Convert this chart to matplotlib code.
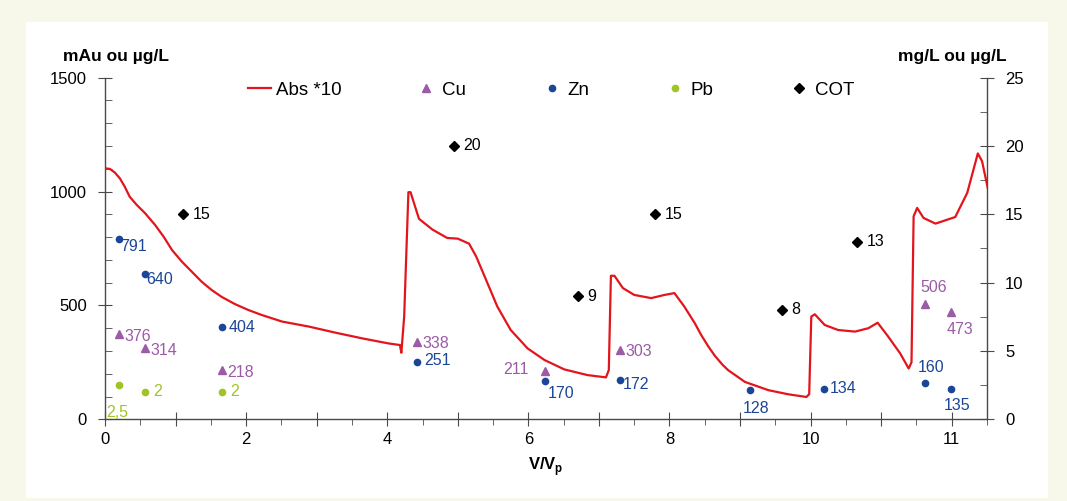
import matplotlib
matplotlib.use('Agg')
import matplotlib.pyplot as plt
from matplotlib.patches import Rectangle
import numpy as np

plt.rcParams['font.family'] = ['Liberation Sans', 'DejaVu Sans']
plt.rcParams['mathtext.fontset'] = 'custom'
plt.rcParams['mathtext.rm'] = 'Liberation Sans'
plt.rcParams['mathtext.bf'] = 'Liberation Sans:bold'

# Abs *10 curve (mAu), x = V/Vp
abs_v = [0.00, 0.07, 0.14, 0.21, 0.28, 0.35, 0.45, 0.57, 0.71, 0.83, 0.95, 1.09,
         1.23, 1.37, 1.51, 1.65, 1.84, 2.03, 2.22,
         2.51, 2.89, 3.27, 3.65, 4.02, 4.18, 4.20, 4.24, 4.30, 4.33, 4.45, 4.64,
         4.85, 5.00, 5.16, 5.26, 5.42, 5.56, 5.75, 5.99, 6.23, 6.51, 6.84, 7.10,
         7.14, 7.17, 7.22, 7.34, 7.50, 7.74, 7.93, 8.07, 8.21, 8.36, 8.45, 8.55,
         8.64, 8.75, 8.83, 9.07, 9.40, 9.68, 9.94, 9.98, 10.01, 10.06, 10.20,
         10.39, 10.63, 10.82, 10.95, 11.10, 11.27, 11.39, 11.43, 11.46, 11.51,
         11.60, 11.77, 12.05, 12.22, 12.37, 12.43, 12.51]
abs_mau = [1102, 1099, 1083, 1058, 1021, 977, 941, 904, 853, 802, 743, 692,
           648, 604, 568, 538, 506, 480, 458,
           429, 407, 380, 355, 333, 326, 292, 451, 997, 997, 880, 833,
           796, 793, 771, 715, 598, 495, 392, 311, 260, 219, 194, 184,
           216, 630, 630, 576, 546, 532, 546, 554, 495, 421, 370, 320,
           280, 240, 216, 164, 128, 110, 98, 110, 451, 461, 414,
           392, 385, 400, 424, 363, 289, 223, 250, 891, 928,
           884, 859, 888, 994, 1167, 1133, 1016]

# Cu (µg/L, left axis)
cu_v = [0.20, 0.57, 1.66, 4.42, 6.23, 7.30, 11.62, 11.99]
cu_val = [376, 314, 218, 338, 211, 303, 506, 473]

# Zn (µg/L, left axis)
zn_v = [0.20, 0.57, 1.66, 4.42, 6.23, 7.30, 9.14, 10.19, 11.62, 11.99]
zn_val = [791, 640, 404, 251, 170, 172, 128, 134, 160, 135]

# Pb (µg/L, right axis)
pb_v = [0.20, 0.57, 1.66]
pb_val = [2.5, 2, 2]
pb_lbl = ['2,5', '2', '2']

# COT (mg/L, right axis)
cot_v = [1.10, 4.94, 6.70, 7.79, 9.59, 10.66]
cot_val = [15, 20, 9, 15, 8, 13]

xtick_pos = list(range(13))
xtick_lbl = ['0', '', '2', '', '4', '', '6', '', '8', '', '10', '', '11']

red = '#e3151c'
purple = '#9b5ba6'
blue = '#1b4596'
green = '#9fc423'

fig = plt.figure(figsize=(10.67, 5.01), dpi=100)
fig.patch.set_facecolor('#f7f7ea')
fig.patches.append(Rectangle((26/1067, 1-498/501), (1048-26)/1067, (498-22)/501,
                             transform=fig.transFigure, facecolor='white',
                             edgecolor='none', zorder=-5))

ax = fig.add_axes([105/1067, 1-419.3/501, 882/1067, 341.7/501])
ax2 = ax.twinx()
ax.set_zorder(2)
ax.patch.set_visible(False)
ax2.patch.set_visible(False)

ax.plot(abs_v, abs_mau, color=red, lw=1.6, label='Abs *10', zorder=3)
ax.plot(cu_v, cu_val, ls='none', marker='^', ms=5.5, color=purple, label='Cu')
ax.plot(zn_v, zn_val, ls='none', marker='o', ms=4.5, color=blue, label='Zn')
ax.plot(np.nan, np.nan, ls='none', marker='o', ms=4.5, color=green, label='Pb')
ax.plot(np.nan, np.nan, ls='none', marker='D', ms=5, color='black', label='COT')
ax2.plot(pb_v, pb_val, ls='none', marker='o', ms=4.5, color=green)
ax2.plot(cot_v, cot_val, ls='none', marker='D', ms=5, color='black')

fs = 11.5
# label offsets (points)
cu_off = [(4, -2), (4, -2), (4, -2), (4, -1), (-30, 1), (4, -1), (-3, 12), (-3, -13)]
for v, y, o in zip(cu_v, cu_val, cu_off):
    ax.annotate(str(y), (v, y), xytext=o, textcoords='offset points',
                color=purple, fontsize=fs, va='center', ha='left')
zn_off = [(1, -5), (1, -4), (5, 0), (5, 1), (2, -9), (2, -3), (-5, -13), (4, 0), (-5, 11), (-5, -12)]
for v, y, o in zip(zn_v, zn_val, zn_off):
    ax.annotate(str(y), (v, y), xytext=o, textcoords='offset points',
                color=blue, fontsize=fs, va='center', ha='left')
pb_off = [(-9, -20), (6, 0), (6, 0)]
for v, y, s, o in zip(pb_v, pb_val, pb_lbl, pb_off):
    ax2.annotate(s, (v, y), xytext=o, textcoords='offset points',
                 color=green, fontsize=fs, va='center', ha='left')
for v, y in zip(cot_v, cot_val):
    ax2.annotate(str(y), (v, y), xytext=(7, 0), textcoords='offset points',
                 color='black', fontsize=fs, va='center', ha='left')

ax.set_xlim(0, 12.5)
ax.set_ylim(0, 1500)
ax2.set_ylim(0, 25)

ax.set_xticks(xtick_pos)
ax.set_xticklabels(xtick_lbl)
ax.set_xticks(np.arange(0.5, 12.51, 1.0), minor=True)
ax.set_yticks([0, 500, 1000, 1500])
ax.set_yticks(np.arange(0, 1501, 100), minor=True)
ax2.set_yticks([0, 5, 10, 15, 20, 25])
ax2.set_yticks(np.arange(0, 25.1, 2.5), minor=True)

axc = '#4a4a4a'
for a in (ax, ax2):
    for s in a.spines.values():
        s.set_visible(False)
ax.spines['left'].set_visible(True)
ax.spines['bottom'].set_visible(True)
ax2.spines['right'].set_visible(True)
for s in (ax.spines['left'], ax.spines['bottom'], ax2.spines['right']):
    s.set_color(axc)
    s.set_linewidth(1.0)

ax.tick_params(axis='x', which='major', direction='inout', length=10, color=axc,
               labelsize=12, pad=4)
ax.tick_params(axis='x', which='minor', direction='out', length=4, color=axc)
ax.tick_params(axis='y', which='major', direction='inout', length=10, color=axc,
               labelsize=12, pad=8)
ax.tick_params(axis='y', which='minor', direction='in', length=5, color=axc)
ax2.tick_params(axis='y', which='major', direction='inout', length=10, color=axc,
                labelsize=12, pad=8)
ax2.tick_params(axis='y', which='minor', direction='in', length=5, color=axc)

ax.set_xlabel(r'V/V$_{\mathbf{p}}$', fontsize=12, fontweight='bold', labelpad=6)
fig.text(116/1067, 1-56/501, 'mAu ou µg/L', fontsize=12.5, fontweight='bold',
         ha='center', va='center')
fig.text(952/1067, 1-56/501, 'mg/L ou µg/L', fontsize=12.5, fontweight='bold',
         ha='center', va='center')

ax.legend(loc='center', bbox_to_anchor=(0.506, 0.963), ncol=5, frameon=False,
          fontsize=13.5, handlelength=1.2, handletextpad=0.25, columnspacing=3.95,
          borderaxespad=0)

fig.savefig('out.png', dpi=100, facecolor=fig.get_facecolor())
